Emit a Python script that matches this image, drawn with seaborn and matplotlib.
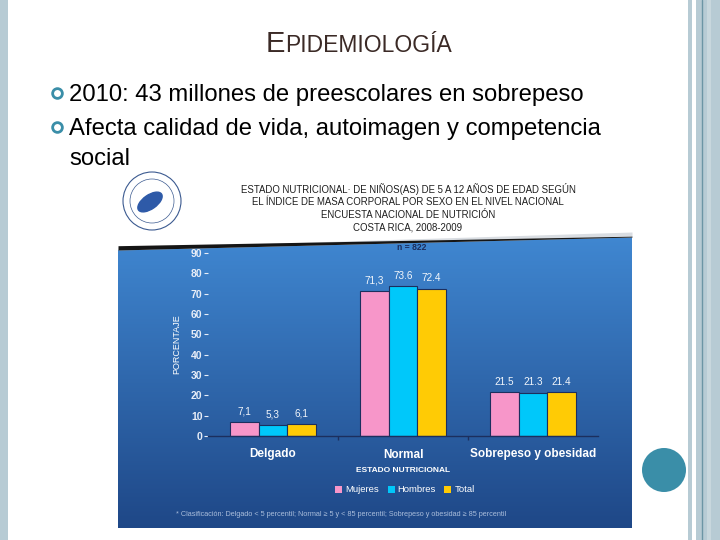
import numpy as np
import pandas as pd
import seaborn as sns
import matplotlib.pyplot as plt
from matplotlib.patches import Rectangle, Circle, Ellipse, Polygon, Patch

# datos del grafico
categorias = ["Delgado", "Normal", "Sobrepeso y obesidad"]
sexos = ["Mujeres", "Hombres", "Total"]
mujeres = [7.1, 71.3, 21.5]
hombres = [5.3, 73.6, 21.3]
total = [6.1, 72.4, 21.4]
etiquetas = {
    "Mujeres": ["7,1", "71,3", "21.5"],
    "Hombres": ["5,3", "73.6", "21.3"],
    "Total": ["6,1", "72.4", "21.4"],
}
titulo_graf = [
    "ESTADO NUTRICIONAL\u00b7 DE NIÑOS(AS) DE 5 A 12 AÑOS DE EDAD SEGÚN",
    "EL ÍNDICE DE MASA CORPORAL POR SEXO EN EL NIVEL NACIONAL",
    "ENCUESTA NACIONAL DE NUTRICIÓN",
    "COSTA RICA, 2008-2009",
]
bullets = [
    "2010: 43 millones de preescolares en sobrepeso",
    "Afecta calidad de vida, autoimagen y competencia",
]

colores = {"Mujeres": "#f796c9", "Hombres": "#00c8fa", "Total": "#ffcb05"}

df = pd.DataFrame({
    "estado": categorias * 3,
    "sexo": [s for s in sexos for _ in categorias],
    "pct": mujeres + hombres + total,
})

sns.set_theme(style="white")
plt.rcParams["font.family"] = ["Liberation Sans", "DejaVu Sans"]

fig = plt.figure(figsize=(7.2, 5.4), dpi=100)
fig.patch.set_facecolor("white")

# fondo de la diapositiva en pixeles
bg = fig.add_axes([0, 0, 1, 1])
bg.set_xlim(0, 720)
bg.set_ylim(540, 0)
bg.axis("off")

borde = "#b7cbd4"
bg.add_patch(Rectangle((0, 0), 8, 540, color=borde, lw=0))
bg.add_patch(Rectangle((688, 0), 4, 540, color=borde, lw=0))
bg.add_patch(Rectangle((696, 0), 24, 540, color=borde, lw=0))
bg.add_patch(Rectangle((707, 0), 4, 540, color="#c8d7dd", lw=0))
bg.plot([702, 702], [0, 540], color="#6c95a5", lw=1)
bg.add_patch(Circle((664, 470), 22, color="#3a8ea8", lw=0))

# titulo de la diapositiva
bg.text(285, 52, "E", fontsize=21, color="#3b2a26", ha="right", va="baseline")
bg.text(285, 52, "PIDEMIOLOGÍA", fontsize=16.5, color="#3b2a26", ha="left",
        va="baseline")

for i, b in enumerate(bullets):
    y = 101 + 34 * i
    bg.plot(57, y - 8, marker="o", ms=7, mfc="white", mec="#3a8ea8", mew=2)
    bg.text(69, y, b, fontsize=17.2, color="black", va="baseline")
bg.text(69, 165, "social", fontsize=17.2, color="black", va="baseline")

# panel azul con degradado
xs = np.linspace(118, 632, 120)
t = (xs - 118) / 514
ytop = 250 - 13 * t
grad = np.linspace(0, 1, 256)[:, None]
c_top = np.array([0.25, 0.53, 0.82])
c_bot = np.array([0.12, 0.28, 0.53])
img = c_top + (c_bot - c_top) * grad[..., None]
img = np.repeat(img, 2, axis=1)
im = bg.imshow(img, extent=[118, 632, 528, 236], aspect="auto", zorder=1)
clip = Polygon(np.vstack([np.c_[xs, ytop], [[632, 528], [118, 528]]]),
               transform=bg.transData)
im.set_clip_path(clip)
# borde curvo superior
bg.fill_between(xs, ytop - 2 - 3 * t, ytop, color="#d9dde2", zorder=2, lw=0)
bg.fill_between(xs, ytop - 3.5 * (1 - t) - 0.8, ytop, color="#151515", zorder=3, lw=0)

# logo
bg.add_patch(Circle((152, 201), 29, fill=False, ec="#3b5a90", lw=0.8, zorder=2))
bg.add_patch(Circle((152, 201), 22, fill=False, ec="#3b5a90", lw=0.5, zorder=2))
bg.add_patch(Ellipse((150, 202), 28, 14, angle=-35, color="#2e5aa8", zorder=2))

for i, linea in enumerate(titulo_graf):
    bg.text(408, 189 + 13 * i, linea, fontsize=6.9, color="#1e1e1e",
            ha="center", va="center", zorder=3)

bg.text(412, 248, "n = 822", fontsize=6.2, color="#1b2d5c", fontweight="bold",
        ha="center", va="center", zorder=3)

# grafico de barras
ax = fig.add_axes([208 / 720, (540 - 436) / 540, 390 / 720, 183 / 540])
ax.patch.set_alpha(0)
sns.barplot(data=df, x="estado", y="pct", hue="sexo", palette=colores,
            width=0.66, edgecolor="#1c2f5e", linewidth=0.8, saturation=1,
            legend=False, ax=ax)
ax.set_ylim(0, 90)
ax.set_xlim(-0.5, 2.5)
ax.set_yticks(range(0, 100, 10))
for sp in ["top", "right", "left"]:
    ax.spines[sp].set_visible(False)
ax.spines["bottom"].set_color("#1c2f5e")
ax.spines["bottom"].set_linewidth(1)

ax.tick_params(axis="y", left=True, colors="#e8eef8", length=3, width=0.8,
               labelsize=7.5, pad=1)
for lab in ax.get_yticklabels():
    lab.set_fontweight("bold")
ax.set_xticks([0.5, 1.5], minor=True)
ax.tick_params(axis="x", which="minor", bottom=True, length=3, color="#1c2f5e")
ax.tick_params(axis="x", which="major", length=0, pad=9, labelsize=8.5,
               labelcolor="white")
for lab in ax.get_xticklabels():
    lab.set_fontweight("bold")

ax.set_xlabel("ESTADO NUTRICIONAL", fontsize=6, fontweight="bold",
              color="white", labelpad=5)
ax.set_ylabel("PORCENTAJE", fontsize=6.5, color="white")
ax.yaxis.set_label_coords(-0.069, 0.5)

for cont, s in zip(ax.containers, sexos):
    ax.bar_label(cont, labels=etiquetas[s], padding=4, fontsize=7.2,
                 color="#f2f6fb")

handles = [Patch(facecolor=colores[s], edgecolor="none") for s in sexos]
ax.legend(handles, sexos, loc="center", bbox_to_anchor=(0.505, -0.295), ncol=3,
          frameon=False, fontsize=6.8, labelcolor="white", handlelength=0.75,
          handleheight=0.75, handletextpad=0.3, columnspacing=0.9)

bg.text(176, 515,
        "* Clasificación: Delgado < 5 percentil; Normal \u2265 5 y < 85 percentil; "
        "Sobrepeso y obesidad \u2265 85 percentil",
        fontsize=5.2, color="#a9bddb", ha="left", va="center", zorder=3)

fig.savefig("out.png", dpi=100)
